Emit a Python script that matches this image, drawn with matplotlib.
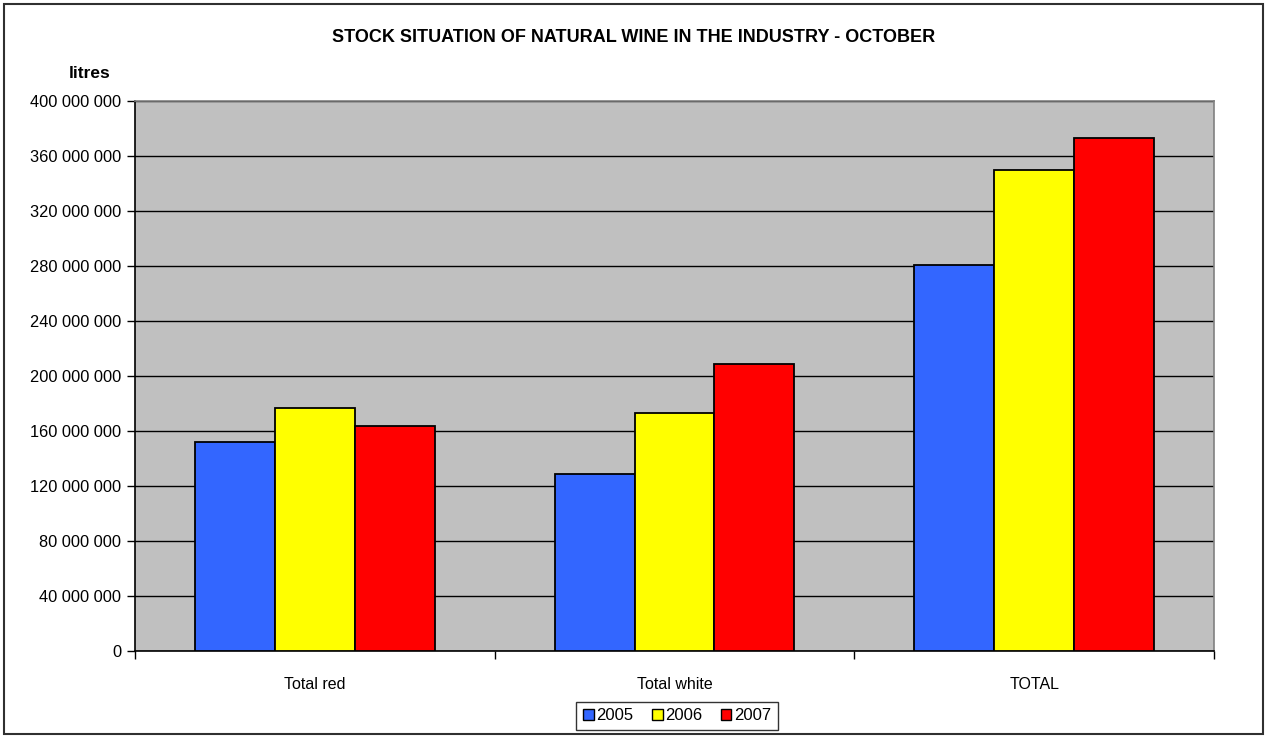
import matplotlib
matplotlib.use("Agg")
import matplotlib.pyplot as plt
import numpy as np
from matplotlib.ticker import FuncFormatter, FixedLocator, NullFormatter
from matplotlib.patches import Rectangle, Patch

plt.rcParams['font.family'] = ['Liberation Sans', 'DejaVu Sans']

categories = ["Total red", "Total white", "TOTAL"]
years = ["2005", "2006", "2007"]
v2005 = [152.0e6, 128.4e6, 280.5e6]
v2006 = [176.8e6, 173.3e6, 349.8e6]
v2007 = [163.9e6, 209.0e6, 373.0e6]
colors = ["#3366FF", "#FFFF00", "#FF0000"]

W, H = 1267, 737
fig = plt.figure(figsize=(W/100, H/100), dpi=100)
ax = fig.add_axes([135/W, (H-651)/H, (1214-135)/W, (651-101)/H])
ax.set_facecolor("#C0C0C0")

x = np.arange(len(categories))
bw = 80/360
series = [v2005, v2006, v2007]
for i, (vals, c) in enumerate(zip(series, colors)):
    ax.bar(x + (i-1)*bw, vals, width=bw, color=c, edgecolor="black", linewidth=1.3, zorder=3)

ax.set_xlim(-0.5, 2.5)
ax.set_ylim(0, 400e6)
ax.set_yticks(np.arange(0, 400e6+1, 40e6))
ax.yaxis.set_major_formatter(FuncFormatter(lambda v, p: f"{int(round(v)):,}".replace(",", " ")))
ax.yaxis.grid(True, color="black", linewidth=1.0, zorder=1)
ax.set_axisbelow(True)

ax.xaxis.set_major_locator(FixedLocator([-0.5, 0.5, 1.5, 2.5]))
ax.xaxis.set_major_formatter(NullFormatter())
ax.xaxis.set_minor_locator(FixedLocator(x))
ax.xaxis.set_minor_formatter(FuncFormatter(lambda v, p: categories[int(round(v))]))
ax.tick_params(axis='x', which='minor', length=0, pad=19, labelsize=11.5)
ax.tick_params(axis='x', which='major', length=6, width=1, direction='out')
ax.tick_params(axis='y', length=6, width=1, direction='out', labelsize=11.8, pad=4)

for s in ['left', 'bottom']:
    ax.spines[s].set_color('black')
    ax.spines[s].set_linewidth(1.2)
for s in ['top', 'right']:
    ax.spines[s].set_color('#808080')
    ax.spines[s].set_linewidth(1.2)

fig.text(0.5, 1 - 37/H, "STOCK SITUATION OF NATURAL WINE IN THE INDUSTRY - OCTOBER",
         ha='center', va='center', fontsize=13, fontweight='bold')
fig.text(90/W, 1 - 73/H, "litres", ha='center', va='center', fontsize=12.5, fontweight='bold')

handles = [Patch(facecolor=c, edgecolor='black', linewidth=1.0) for c in colors]
leg = fig.legend(handles, years, loc='center', bbox_to_anchor=(677/W, 1 - 716/H),
                 ncol=3, frameon=True, fontsize=12, handlelength=0.65, handleheight=0.65,
                 handletextpad=0.15, columnspacing=1.1, borderpad=0.4, borderaxespad=0,
                 fancybox=False)
leg.get_frame().set_edgecolor('black')
leg.get_frame().set_linewidth(1.0)

fig.patches.append(Rectangle((4/W, 3/H), (W-8)/W, (H-7)/H, transform=fig.transFigure,
                             fill=False, edgecolor='#303030', linewidth=1.5))

fig.savefig("out.png", dpi=100)
